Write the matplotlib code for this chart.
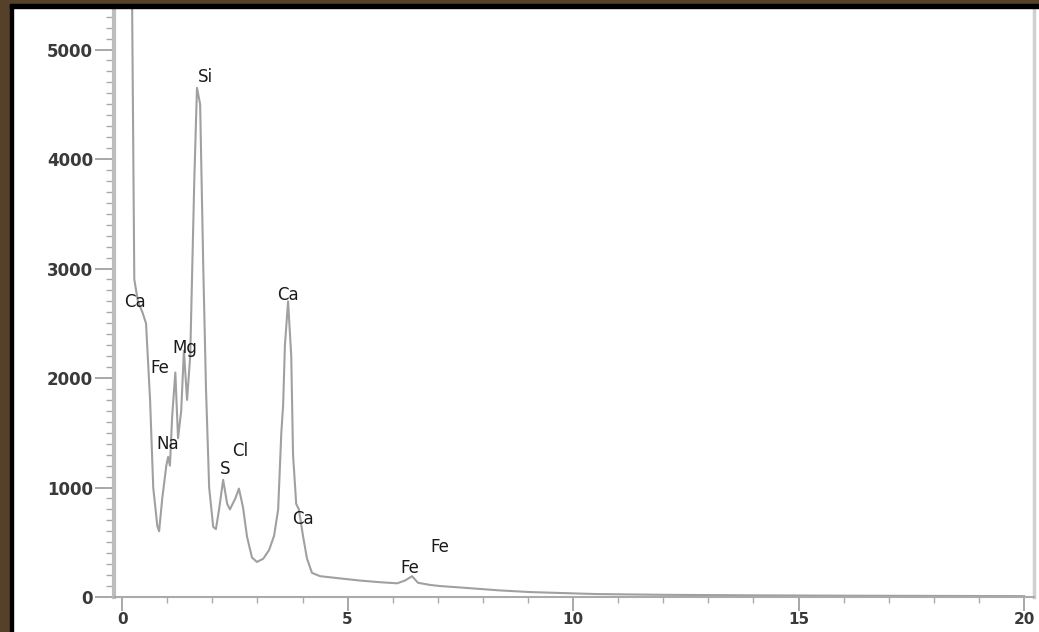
import matplotlib
matplotlib.use('Agg')
import matplotlib.pyplot as plt
from matplotlib.patches import Rectangle
from matplotlib.ticker import MultipleLocator

# EDS spectrum (energy in keV, counts)
energy_kev = [0.18, 0.20, 0.22, 0.27, 0.35, 0.45, 0.53, 0.62, 0.69, 0.78, 0.82, 0.89,
              0.98, 1.02, 1.06, 1.11, 1.18, 1.24, 1.31, 1.37, 1.44, 1.51, 1.60, 1.66,
              1.73, 1.80, 1.86, 1.93, 2.02, 2.08, 2.15, 2.24, 2.33, 2.39, 2.51, 2.59,
              2.68, 2.77, 2.88, 2.99, 3.13, 3.26, 3.37, 3.46, 3.53, 3.57, 3.61, 3.68,
              3.75, 3.79, 3.86, 3.92, 4.01, 4.10, 4.21, 4.39, 4.83, 5.28, 5.72, 6.10,
              6.27, 6.43, 6.56, 6.83, 7.05, 7.56, 8.38, 9.05, 10.5, 12.0, 14.0, 16.0,
              18.0, 20.0]
counts = [9000, 9000, 5500, 2900, 2700, 2600, 2500, 1800, 1000, 650, 600, 900,
          1200, 1280, 1200, 1650, 2050, 1450, 1700, 2250, 1800, 2200, 3800, 4650,
          4500, 3000, 1900, 1000, 640, 620, 800, 1070, 850, 800, 900, 990,
          820, 550, 360, 320, 350, 430, 560, 800, 1500, 1750, 2300, 2700,
          2200, 1300, 850, 800, 560, 350, 220, 190, 170, 150, 135, 125,
          150, 190, 130, 110, 100, 85, 60, 45, 27, 20, 15, 12,
          10, 8]

peak_names = ['Si', 'Ca', 'Mg', 'Fe', 'Na', 'Cl', 'S', 'Ca', 'Ca', 'Fe', 'Fe']
peak_x = [1.84, 0.29, 1.40, 0.84, 1.02, 2.62, 2.28, 3.68, 4.01, 6.39, 7.05]
peak_y = [4745, 2690, 2270, 2090, 1400, 1330, 1165, 2755, 710, 265, 455]

W, H = 1039, 632
fig = plt.figure(figsize=(W / 100, H / 100), dpi=100, facecolor='white')
ax = fig.add_axes([114 / W, 1 - 597 / H, (1034 - 114) / W, (597 - 8) / H])

ax.plot(energy_kev, counts, color='#a0a0a0', lw=1.5)
for name, x, y in zip(peak_names, peak_x, peak_y):
    ax.text(x, y, name, ha='center', va='center', fontsize=12, color='#1a1a1a')

ax.set_xlim(-0.18, 20.22)
ax.set_ylim(0, 5379)
ax.xaxis.set_major_locator(MultipleLocator(5))
ax.xaxis.set_minor_locator(MultipleLocator(1))
ax.yaxis.set_major_locator(MultipleLocator(1000))
ax.yaxis.set_minor_locator(MultipleLocator(100))

ax.spines['top'].set_visible(False)
ax.spines['left'].set_color('#bdbdbd')
ax.spines['left'].set_linewidth(3)
ax.spines['bottom'].set_color('#aaaaaa')
ax.spines['bottom'].set_linewidth(1.5)
ax.spines['right'].set_color('#d0d0d0')
ax.spines['right'].set_linewidth(2.5)

ax.tick_params(axis='y', which='major', direction='out', length=14, width=1.2,
               color='#999999', labelsize=12, labelcolor='#3a3a3a', pad=1)
ax.tick_params(axis='y', which='minor', direction='out', length=6, width=1.0, color='#aaaaaa')
ax.tick_params(axis='x', which='major', direction='out', length=10, width=1.2,
               color='#999999', labelsize=11, labelcolor='#3a3a3a', pad=1)
ax.tick_params(axis='x', which='minor', direction='out', length=4, width=1.0, color='#aaaaaa')
for lab in ax.get_xticklabels() + ax.get_yticklabels():
    lab.set_fontweight('bold')

# dark frame around the picture
brown = '#55402a'
fig.add_artist(Rectangle((0, 0), 10 / W, 1, transform=fig.transFigure, color=brown, zorder=10))
fig.add_artist(Rectangle((10 / W, 0), 3 / W, 1 - 4 / H, transform=fig.transFigure, color='black', zorder=10))
fig.add_artist(Rectangle((0, 1 - 4 / H), 1, 4 / H, transform=fig.transFigure, color=brown, zorder=10))
fig.add_artist(Rectangle((10 / W, 1 - 8 / H), 1, 4 / H, transform=fig.transFigure, color='black', zorder=10))

fig.savefig('out.png', dpi=100, facecolor='white')
